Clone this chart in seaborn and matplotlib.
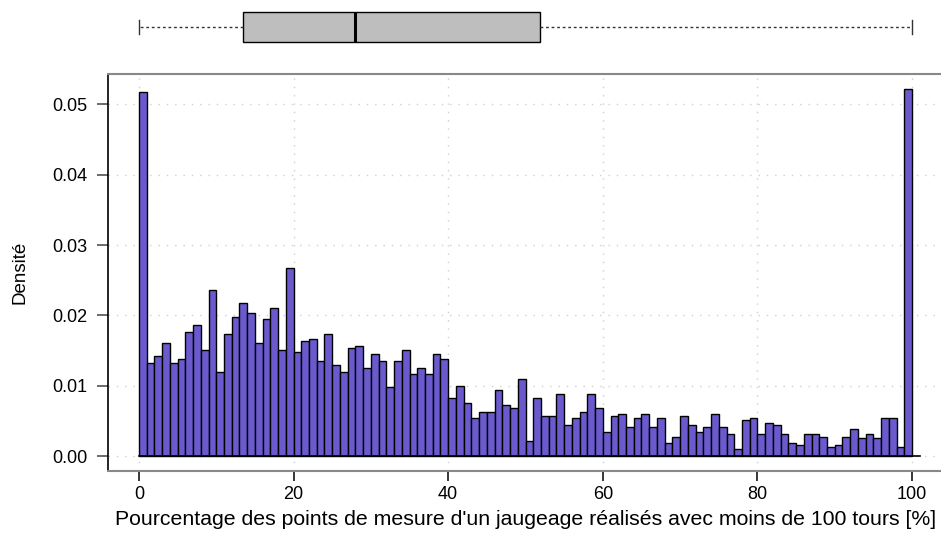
import numpy as np
import pandas as pd
import matplotlib
matplotlib.use("Agg")
import matplotlib.pyplot as plt
import seaborn as sns

# Histogram: density per 1 % bin, from 0 % to 100 %
bin_edges = np.arange(0, 101, 1)
density = [
    0.0518, 0.0132, 0.0142, 0.0161, 0.0132, 0.0138, 0.0176, 0.0186, 0.0151, 0.0236,
    0.0119, 0.0173, 0.0198, 0.0217, 0.0204, 0.0161, 0.0195, 0.0210, 0.0151, 0.0267,
    0.0148, 0.0164, 0.0166, 0.0135, 0.0173, 0.0129, 0.0119, 0.0154, 0.0157, 0.0126,
    0.0145, 0.0135, 0.0098, 0.0135, 0.0151, 0.0117, 0.0126, 0.0117, 0.0145, 0.0138,
    0.0082, 0.0100, 0.0075, 0.0054, 0.0063, 0.0063, 0.0094, 0.0073, 0.0069, 0.0110,
    0.0022, 0.0082, 0.0057, 0.0057, 0.0088, 0.0044, 0.0054, 0.0063, 0.0088, 0.0069,
    0.0035, 0.0057, 0.0060, 0.0041, 0.0054, 0.0060, 0.0041, 0.0054, 0.0019, 0.0028,
    0.0057, 0.0044, 0.0035, 0.0041, 0.0060, 0.0041, 0.0032, 0.0010, 0.0051, 0.0054,
    0.0032, 0.0047, 0.0044, 0.0032, 0.0019, 0.0016, 0.0032, 0.0032, 0.0028, 0.0013,
    0.0016, 0.0028, 0.0038, 0.0026, 0.0032, 0.0026, 0.0054, 0.0054, 0.0013, 0.0521,
]
bin_centers = bin_edges[:-1] + 0.5

# Five-number summary for the boxplot: min, Q1, median, Q3, max
box_summary = [0.0, 13.4, 27.9, 51.9, 100.0]

x_ticks = [0, 20, 40, 60, 80, 100]
y_ticks = [0.00, 0.01, 0.02, 0.03, 0.04, 0.05]
x_label = "Pourcentage des points de mesure d'un jaugeage réalisés avec moins de 100 tours [%]"
y_label = "Densité"

plt.rcParams["font.family"] = ["Liberation Sans", "DejaVu Sans"]

W, H = 941, 536
fig = plt.figure(figsize=(W / 100, H / 100), dpi=100)

xlim = (-4.0, 104.0)
ylim = (-0.0021, 0.0543)
left_px, right_px = 108, 943
top_px, bottom_px = 74, 471

ax = fig.add_axes([left_px / W, 1 - bottom_px / H,
                   (right_px - left_px) / W, (bottom_px - top_px) / H])

grid_kw = dict(color="#cfcfcf", linestyle=(0, (1, 5)), linewidth=1.0, zorder=0)
for xv in x_ticks:
    ax.axvline(xv, **grid_kw)
for yv in y_ticks:
    ax.axhline(yv, **grid_kw)

hist_df = pd.DataFrame({"pct": bin_centers, "dens": density})
sns.histplot(data=hist_df, x="pct", weights="dens", bins=list(bin_edges), stat="count",
             color="#6a5acd", edgecolor="black", linewidth=1.0, alpha=1.0,
             ax=ax, zorder=2)
# baseline under the bars
ax.plot([bin_edges[0], bin_edges[-1] + 1], [0, 0], color="black", lw=1.2, zorder=3)

ax.set_xlim(*xlim)
ax.set_ylim(*ylim)
ax.set_xticks(x_ticks)
ax.set_xticklabels([str(v) for v in x_ticks])
ax.set_yticks(y_ticks)
ax.set_yticklabels([f"{v:.2f}" for v in y_ticks])
ax.tick_params(axis="x", length=7, width=1.1, pad=4, labelsize=13,
               color="black", labelcolor="black")
ax.tick_params(axis="y", length=8, width=1.1, pad=6.5, labelsize=13,
               color="#444444", labelcolor="black")
ax.set_xlabel(x_label, fontsize=15.3, labelpad=5)
ax.set_ylabel(y_label, fontsize=13.5, labelpad=17)

for side in ("top", "right", "bottom"):
    ax.spines[side].set_color("#888888")
    ax.spines[side].set_linewidth(1.5)
ax.spines["left"].set_color("black")
ax.spines["left"].set_linewidth(1.2)

# Boxplot strip above the histogram
box_h = 54
axb = fig.add_axes([left_px / W, 1 - box_h / H, (right_px - left_px) / W, box_h / H])
sns.boxplot(x=box_summary, orient="h", whis=(0, 100), width=29 / box_h,
            color="#bebebe", saturation=1, linecolor="black", linewidth=1.0,
            medianprops=dict(color="black", linewidth=2.2),
            whiskerprops=dict(color="#333333", linestyle=(0, (2, 2)), linewidth=1.0),
            capprops=dict(color="#333333", linewidth=1.0),
            showfliers=False, ax=axb)
axb.set_xlim(*xlim)
axb.set_ylim(0.5, -0.5)
axb.axis("off")

fig.savefig("out.png", dpi=100)
